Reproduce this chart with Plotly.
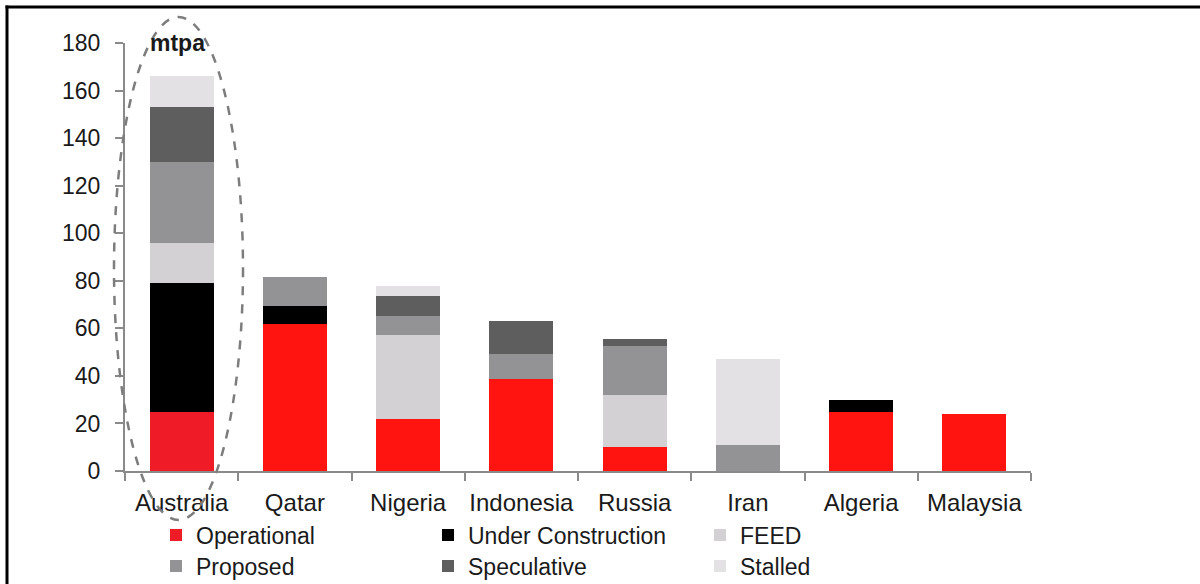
import plotly.graph_objects as go

# LNG liquefaction capacity by country and project stage (mtpa)
countries = ["Australia", "Qatar", "Nigeria", "Indonesia", "Russia", "Iran", "Algeria", "Malaysia"]

operational = [25, 62, 22, 38.5, 10, 0, 25, 24]
under_construction = [54, 7.5, 0, 0, 0, 0, 5, 0]
feed = [17, 0, 35, 0, 22, 0, 0, 0]
proposed = [34, 12, 8, 10.5, 20.5, 11, 0, 0]
speculative = [23, 0, 8.5, 14, 3, 0, 0, 0]
stalled = [13, 0, 4.5, 0, 0, 36, 0, 0]

y_ticks = [0, 20, 40, 60, 80, 100, 120, 140, 160, 180]

FONT = "Liberation Sans, Arial, sans-serif"
TEXT = "#1a1a1a"
AXIS = "#8a8a8a"

RED = "#ff1410"
op_colors = ["#ef1c27"] + [RED] * (len(countries) - 1)

series = [
    ("Operational", operational, op_colors, "legend"),
    ("Under Construction", under_construction, "#000000", "legend"),
    ("FEED", feed, "#d3d1d4", "legend"),
    ("Proposed", proposed, "#939294", "legend2"),
    ("Speculative", speculative, "#5e5e5f", "legend2"),
    ("Stalled", stalled, "#e3e1e4", "legend2"),
]

fig = go.Figure()
for name, vals, color, lg in series:
    fig.add_trace(go.Bar(
        x=countries, y=vals, name=name, legend=lg,
        marker=dict(color=color, line=dict(width=0)),
    ))

W, H = 1200, 584
ML, MR, MT, MB = 125, 169, 43, 113
pw, ph = W - ML - MR, H - MT - MB


def px(x):
    return (x - ML) / pw


def py(y):
    return (H - MB - y) / ph


legend_common = dict(
    orientation="h", xanchor="left", yanchor="middle", traceorder="normal",
    font=dict(family=FONT, size=23, color=TEXT),
    entrywidthmode="pixels", entrywidth=227,
    bgcolor="rgba(0,0,0,0)", borderwidth=0,
    itemclick=False, itemdoubleclick=False,
)

fig.update_layout(
    width=W, height=H,
    margin=dict(l=ML, r=MR, t=MT, b=MB, autoexpand=False),
    paper_bgcolor="white", plot_bgcolor="white",
    barmode="stack", bargap=0.435,
    font=dict(family=FONT, size=23, color=TEXT),
    legend=dict(x=px(156), y=py(535), **legend_common),
    legend2=dict(x=px(156), y=py(566), **legend_common),
    xaxis=dict(
        showline=True, linecolor=AXIS, linewidth=2,
        ticks="outside", tickson="boundaries", ticklen=8, tickwidth=2, tickcolor=AXIS,
        tickfont=dict(family=FONT, size=24, color=TEXT), tickangle=0,
        ticklabelstandoff=9, showgrid=False,
    ),
    yaxis=dict(
        range=[0, 180], tickvals=y_ticks,
        showline=True, linecolor=AXIS, linewidth=2,
        ticks="outside", ticklen=8, tickwidth=2, tickcolor=AXIS,
        tickfont=dict(family=FONT, size=23, color=TEXT),
        ticklabelstandoff=10, showgrid=False, zeroline=False,
    ),
)

# unit label above the first bar
fig.add_annotation(
    x=countries[0], xref="x", y=1.0, yref="paper", xshift=-4,
    text="<b>mtpa</b>", showarrow=False, yanchor="middle",
    font=dict(family=FONT, size=23, color=TEXT),
)

# dashed ellipse highlighting Australia
fig.add_shape(
    type="circle", xref="paper", yref="paper",
    x0=px(114), x1=px(243), y0=py(520), y1=py(17),
    line=dict(color="#7d7d7d", width=2.5, dash="dash"),
    layer="above",
)

# frame lines along the top and left edges
fig.add_shape(type="line", xref="paper", yref="paper",
              x0=px(5.5), x1=px(1200), y0=py(7), y1=py(7),
              line=dict(color="black", width=3))
fig.add_shape(type="line", xref="paper", yref="paper",
              x0=px(7), x1=px(7), y0=py(5.5), y1=py(584),
              line=dict(color="black", width=3))

fig.write_html("out.html")
